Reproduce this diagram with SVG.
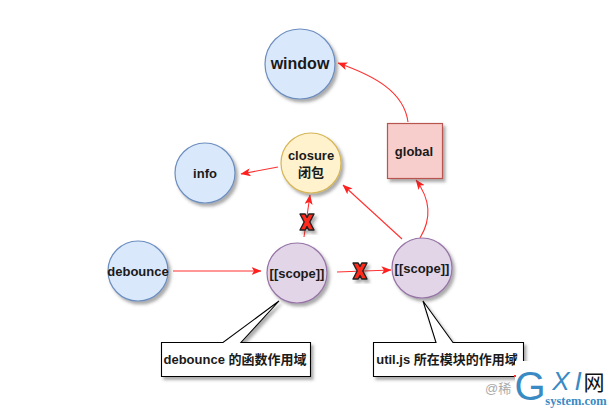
<svg xmlns="http://www.w3.org/2000/svg" width="613" height="409" viewBox="0 0 613 409">
<style>
text{font-family:"Liberation Sans","Noto Sans CJK SC",sans-serif;font-size:13px;fill:#1a1a1a;text-anchor:middle;font-weight:bold}
.c{stroke-width:1.2}
.blue{fill:#dae8fc;stroke:#6c8ebf}
.purple{fill:#e1d5e7;stroke:#9673a6}
.yellow{fill:#fff2cc;stroke:#d6b656}
.red{fill:#f8cecc;stroke:#b85450}
.note{fill:#fff;stroke:#000;stroke-width:1.1}
.conn{fill:none;stroke:#ff3030;stroke-width:1.1;marker-end:url(#a)}
.x{fill:#ff2a1a;stroke:#222;stroke-width:1.4;stroke-linejoin:round}
.wm{font-weight:normal;fill:#3a8ac4}
</style>
<defs>
<filter id="s" x="-20%" y="-20%" width="150%" height="150%"><feDropShadow dx="2.500" dy="3" stdDeviation="1.600" flood-color="#444" flood-opacity=".45"/></filter>
<marker id="a" viewBox="0 0 10 8" refX="9.500" refY="4" markerWidth="10" markerHeight="8" markerUnits="userSpaceOnUse" orient="auto"><path d="M0 0L10 4L0 8L2.500 4Z" fill="#ff2020"/></marker>
<path id="xm" d="M-7-8H-1.800L0-4.600L1.800-8H7L2.800 0L7 8H1.800L0 4.600L-1.800 8H-7L-2.800 0Z"/>
</defs>
<g id="connectors">
<path class="conn" d="M408 122C404 92 375 76 338 63"/>
<path class="conn" d="M278 167L241 174"/>
<path class="conn" d="M304 237L310 195"/>
<path class="conn" d="M173 271L261 271"/>
<path class="conn" d="M337 272L391 270"/>
<path class="conn" d="M402 239L343 185"/>
<path class="conn" d="M420 238C431 220 431 200 416 180"/>
</g>
<g id="window"><circle class="blue c" cx="300" cy="64" r="35" filter="url(#s)"/><text x="300" y="69" style="font-size:16px">window</text></g>
<g id="info"><circle class="blue c" cx="205" cy="173" r="30" filter="url(#s)"/><text x="205" y="178">info</text></g>
<g id="closure"><circle class="yellow c" cx="311" cy="163" r="30" filter="url(#s)"/><text x="311" y="160">closure</text><text x="311" y="177">闭包</text></g>
<g id="global"><rect class="red c" x="387.500" y="123.500" width="55" height="55" filter="url(#s)"/><text x="414" y="156">global</text></g>
<g id="debounce"><circle class="blue c" cx="138" cy="271" r="30" filter="url(#s)"/><text x="138" y="276">debounce</text></g>
<g id="scope1"><circle class="purple c" cx="297" cy="273" r="30" filter="url(#s)"/><text x="297" y="278">[[scope]]</text></g>
<g id="scope2"><circle class="purple c" cx="422" cy="268" r="30" filter="url(#s)"/><text x="422" y="273">[[scope]]</text></g>
<g id="x1"><use href="#xm" class="x" x="307" y="222" filter="url(#s)"/></g>
<g id="x2"><use href="#xm" class="x" x="360" y="271" filter="url(#s)"/></g>
<g id="note1"><path class="note" d="M161.500 342.500H223L279 301L241 342.500H310.500V376.500H161.500Z" filter="url(#s)"/><text x="235" y="364">debounce 的函数作用域</text></g>
<g id="note2"><path class="note" d="M373.500 342.500H436L423 301L453 342.500H523.500V376.500H373.500Z" filter="url(#s)"/><text x="447" y="364">util.js 所在模块的作用域</text></g>
<g id="watermark">
<text x="485" y="393" style="font-size:13px;font-weight:normal;fill:#aaa;text-anchor:start">@稀</text>
<rect x="515" y="361" width="98" height="48" fill="#fff"/>
<rect x="514" y="375" width="2" height="2" fill="#ff3030"/>
<text x="530" y="400" class="wm" style="font-size:40px">G</text>
<text x="561" y="390" class="wm" style="font-size:26px;font-style:italic">X</text>
<text x="578" y="390" class="wm" style="font-size:26px;font-style:italic">I</text>
<text x="594" y="390" style="font-size:21px;font-weight:normal;fill:#111">网</text>
<text x="576" y="405" style="font-size:12.500px;font-family:'Liberation Serif',serif;fill:#3a8ac4">system.com</text>
</g>
</svg>
